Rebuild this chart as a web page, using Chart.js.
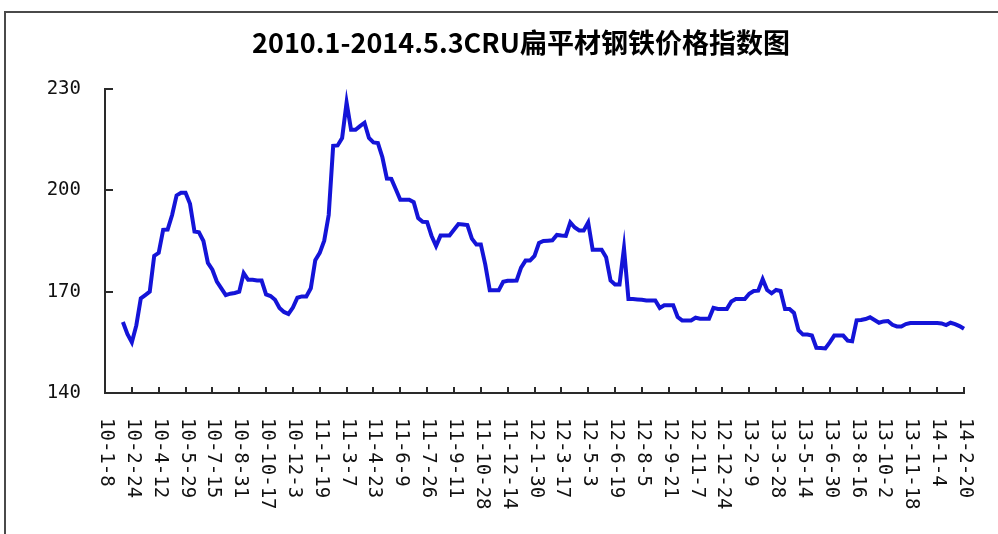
<!DOCTYPE html>
<html>
<head>
<meta charset="utf-8">
<script src="https://cdn.jsdelivr.net/npm/chart.js@4.4.1/dist/chart.umd.min.js"></script>
<style>
  html, body { margin: 0; padding: 0; background: #fff; }
  #wrap { position: relative; width: 998px; height: 534px; overflow: hidden; }
  #frame {
    position: absolute; left: 4px; top: 11px; right: -10px; bottom: -10px;
    border-top: 2px solid #4a4a4a; border-left: 2px solid #4a4a4a;
  }
  #chart { position: absolute; left: 0; top: 0; }
</style>
</head>
<body>
<div id="wrap">
  <div id="frame"></div>
  <canvas id="chart" width="998" height="534"></canvas>
</div>
<script>
// axis labels shown under the x axis, one every 6 points
const tickLabels = [
  '10-1-8', '10-2-24', '10-4-12', '10-5-29', '10-7-15', '10-8-31', '10-10-17', '10-12-3',
  '11-1-19', '11-3-7', '11-4-23', '11-6-9', '11-7-26', '11-9-11', '11-10-28', '11-12-14',
  '12-1-30', '12-3-17', '12-5-3', '12-6-19', '12-8-5', '12-9-21', '12-11-7', '12-12-24',
  '13-2-9', '13-3-28', '13-5-14', '13-6-30', '13-8-16', '13-10-2', '13-11-18', '14-1-4',
  '14-2-20'
];
const labelEvery = 6;

// CRU flat steel price index
const indexValues = [
  null, null, null, null, 161, 157.5, 155, 160, 168, 169,
  170, 180.6, 181.5, 188.3, 188.4, 192.7, 198.5, 199.3, 199.3, 196,
  187.8, 187.6, 185, 178.5, 176.5, 173, 171, 169, 169.4, 169.6,
  170, 175.5, 173.5, 173.5, 173.3, 173.3, 169.2, 168.7, 167.6, 165.2,
  164, 163.4, 165.3, 168.2, 168.6, 168.6, 171, 179.3, 181.5, 185.1,
  192.7, 213.2, 213.3, 215.5, 226, 217.9, 217.9, 219, 220, 215.5,
  214.2, 214, 209.8, 203.5, 203.4, 200.3, 197.2, 197.2, 197.2, 196.5,
  191.8, 190.7, 190.6, 186.5, 183.5, 186.6, 186.6, 186.6, 188.3, 190,
  189.9, 189.7, 185.7, 184, 184, 178, 170.4, 170.4, 170.4, 172.9,
  173.2, 173.2, 173.3, 177.1, 179.2, 179.2, 180.6, 184.4, 185, 185.1,
  185.2, 186.8, 186.6, 186.5, 190.5, 189, 188.1, 188.1, 190.5, 182.4,
  182.4, 182.4, 180.2, 173.3, 172.1, 172.1, 182.9, 167.8, 167.8, 167.7,
  167.6, 167.4, 167.4, 167.4, 165.2, 166, 166, 166, 162.5, 161.5,
  161.5, 161.5, 162.3, 162, 162, 162, 165.2, 164.9, 164.9, 164.9,
  167.1, 167.8, 167.8, 167.8, 169.4, 170.2, 170.3, 173.7, 170.5, 169.5,
  170.5, 170.2, 164.9, 164.9, 163.7, 158.6, 157.3, 157.3, 157, 153.4,
  153.3, 153.2, 155, 157, 157, 157, 155.5, 155.3, 161.5, 161.6,
  161.9, 162.4, 161.6, 160.8, 161.2, 161.3, 160.2, 159.7, 159.7, 160.4,
  160.7, 160.7, 160.7, 160.7, 160.7, 160.7, 160.7, 160.6, 160.1, 160.8,
  160.4, 159.8, 159
];

const yMin = 140;
const yMax = 230;
const yStep = 30;

const chartTitle = '2010.1-2014.5.3CRU扁平材钢铁价格指数图';

const categories = indexValues.map((v, i) =>
  i % labelEvery === 0 ? tickLabels[i / labelEvery] : ''
);

const axisColor = '#2a2a2a';
const labelFont = '19px "DejaVu Sans Mono", monospace';

// title, inside tick marks + vertical x labels (reading top to bottom)
const axisDecor = {
  id: 'axisDecor',
  afterDraw(chart) {
    const { ctx, scales: { x, y }, chartArea } = chart;
    ctx.save();

    ctx.fillStyle = '#000';
    ctx.font = 'bold 27px "Noto Sans CJK SC", sans-serif';
    ctx.textAlign = 'center';
    ctx.textBaseline = 'middle';
    ctx.fillText(chartTitle, 521, 43);

    ctx.strokeStyle = axisColor;
    ctx.lineWidth = 2;

    // y ticks point into the plot
    for (let v = yMin; v <= yMax; v += yStep) {
      const py = Math.round(y.getPixelForValue(v));
      ctx.beginPath();
      ctx.moveTo(chartArea.left, py);
      ctx.lineTo(chartArea.left + 8, py);
      ctx.stroke();
    }

    // x ticks + labels
    ctx.fillStyle = '#111';
    ctx.font = labelFont;
    ctx.textAlign = 'left';
    ctx.textBaseline = 'middle';
    categories.forEach((lbl, i) => {
      if (!lbl) return;
      const px = Math.round(x.getPixelForValue(i));
      ctx.beginPath();
      ctx.moveTo(px, chartArea.bottom);
      ctx.lineTo(px, chartArea.bottom - 6);
      ctx.stroke();

      ctx.save();
      ctx.translate(px + 1, chartArea.bottom + 25);
      ctx.rotate(Math.PI / 2);
      ctx.fillText(lbl, 0, 0);
      ctx.restore();
    });
    ctx.restore();
  }
};

new Chart(document.getElementById('chart'), {
  type: 'line',
  data: {
    labels: categories,
    datasets: [{
      data: indexValues,
      borderColor: '#1414d8',
      borderWidth: 4,
      pointRadius: 0,
      tension: 0,
      fill: false,
      spanGaps: false
    }]
  },
  options: {
    responsive: false,
    animation: false,
    layout: { padding: { left: 0, right: 34, top: 89, bottom: 0 } },
    plugins: {
      legend: { display: false },
      tooltip: { enabled: false },
      title: { display: false }
    },
    scales: {
      x: {
        type: 'category',
        offset: false,
        grid: { display: false, drawTicks: false },
        border: { display: true, color: axisColor, width: 2 },
        ticks: { display: false, autoSkip: false },
        afterFit: (scale) => { scale.height = 141; }
      },
      y: {
        min: yMin,
        max: yMax,
        grid: { display: false, drawTicks: false },
        border: { display: true, color: axisColor, width: 2 },
        ticks: {
          stepSize: yStep,
          padding: 24,
          color: '#111',
          font: { family: '"DejaVu Sans Mono", monospace', size: 19 }
        },
        afterFit: (scale) => { scale.width = 105; }
      }
    }
  },
  plugins: [axisDecor]
});
</script>
</body>
</html>
